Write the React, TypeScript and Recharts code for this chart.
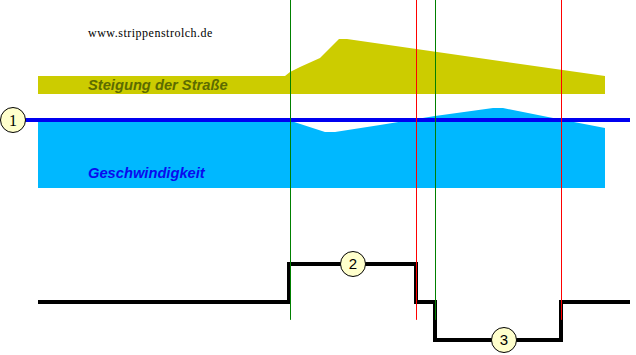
import { ComposedChart, XAxis, YAxis, Area, Line, ReferenceDot } from 'recharts'

const W = 636
const H = 355

// Strecke in m (0 = Beginn der Grafik)
const X_DOMAIN: [number, number] = [-38, 598]

// Steigung der Straße in %
const gradeDist = [0, 247, 252, 262, 282, 301, 309, 567]
const gradeValues = [0, 0, 0.9, 2, 4, 8.2, 8.2, 0]

// Geschwindigkeit in km/h
const speedDist = [0, 250, 287, 297, 342, 397, 455, 465, 510, 567]
const speedValues = [50, 50, 41.2, 41.2, 46.3, 52.9, 58.8, 58.8, 52.2, 44.1]
const setSpeedDist = [-25, 592]
const setSpeed = 50

// Regler: 1 = Gas, 0 = neutral, -1 = Bremse
const stateDist = [0, 251, 378, 397, 523, 592]
const stateValues = [0, 1, 0, -1, 0, 0]

// senkrechte Markierungen
const markerDist = [252.5, 378.5, 397.5, 523.5]
const MARKER_COLORS = ['#008000', '#ff0000', '#008000', '#ff0000']

// Nummern
const badgeLabels = ['1', '2', '3']
const badgeDist = [-25, 315, 466]

// Achsenbereich so, dass v0 bei Pixelzeile y0 liegt
function yDomain(v0: number, y0: number, pxPerUnit: number): [number, number] {
  return [v0 - (H - y0) / pxPerUnit, v0 + y0 / pxPerUnit]
}

const gradeDomain = yDomain(0, 76, 4.5)
const speedDomain = yDomain(0, 188, 1.36)
const stateDomain = yDomain(0, 302, 38)
const GRADE_BASE = -4
const MARKER_BOTTOM = -0.47

const gradeData = gradeDist.map((d, i) => ({ d, g: gradeValues[i] }))
const speedData = speedDist.map((d, i) => ({ d, v: speedValues[i] }))
const setSpeedData = setSpeedDist.map(d => ({ d, v: setSpeed }))
const stateData = stateDist.map((d, i) => ({ d, s: stateValues[i] }))

const badgeStyle = { fill: '#ffffcc', stroke: '#000', strokeWidth: 1, r: 12.5 }

export default function App() {
  return (
    <div style={{ position: 'relative', width: W, height: H, background: '#fff' }}>
      <style>{'body{margin:0}'}</style>
      <ComposedChart width={W} height={H} margin={{ top: 0, right: 0, bottom: 0, left: 0 }}>
        <XAxis dataKey="d" type="number" domain={X_DOMAIN} allowDataOverflow hide />
        <YAxis yAxisId="grade" type="number" domain={gradeDomain} allowDataOverflow hide />
        <YAxis yAxisId="speed" type="number" domain={speedDomain} allowDataOverflow hide />
        <YAxis yAxisId="state" type="number" domain={stateDomain} allowDataOverflow hide />

        <Area
          data={gradeData}
          dataKey="g"
          yAxisId="grade"
          type="linear"
          baseValue={GRADE_BASE}
          fill="#cccc00"
          fillOpacity={1}
          stroke="none"
          dot={false}
          activeDot={false}
          isAnimationActive={false}
        />
        <Area
          data={speedData}
          dataKey="v"
          yAxisId="speed"
          type="linear"
          baseValue={0}
          fill="#00b8ff"
          fillOpacity={1}
          stroke="none"
          dot={false}
          activeDot={false}
          isAnimationActive={false}
        />
        <Line
          data={setSpeedData}
          dataKey="v"
          yAxisId="speed"
          stroke="#0000f0"
          strokeWidth={4}
          dot={false}
          activeDot={false}
          isAnimationActive={false}
        />
        <Line
          data={stateData}
          dataKey="s"
          yAxisId="state"
          type="stepAfter"
          stroke="#000"
          strokeWidth={4}
          dot={false}
          activeDot={false}
          isAnimationActive={false}
        />
        {markerDist.map((d, i) => (
          <Line
            key={`m-${i}`}
            data={[{ d, s: MARKER_BOTTOM }, { d, s: stateDomain[1] }]}
            dataKey="s"
            yAxisId="state"
            stroke={MARKER_COLORS[i]}
            strokeWidth={1}
            dot={false}
            activeDot={false}
            isAnimationActive={false}
          />
        ))}

        <ReferenceDot
          x={badgeDist[0]}
          y={setSpeed}
          yAxisId="speed"
          {...badgeStyle}
          label={{ value: badgeLabels[0], position: 'center', fontFamily: 'Liberation Serif', fontSize: 16, fill: '#000' }}
        />
        <ReferenceDot
          x={badgeDist[1]}
          y={1}
          yAxisId="state"
          {...badgeStyle}
          label={{ value: badgeLabels[1], position: 'center', fontFamily: 'Liberation Sans', fontSize: 15, fill: '#000' }}
        />
        <ReferenceDot
          x={badgeDist[2]}
          y={-1}
          yAxisId="state"
          {...badgeStyle}
          label={{ value: badgeLabels[2], position: 'center', fontFamily: 'Liberation Sans', fontSize: 15, fill: '#000' }}
        />
      </ComposedChart>

      <svg width={W} height={H} style={{ position: 'absolute', left: 0, top: 0, pointerEvents: 'none' }}>
        <text x={88} y={37} fontFamily="Liberation Serif" fontSize={12} letterSpacing={0.5} fill="#000">
          www.strippenstrolch.de
        </text>
        <text x={88} y={90} fontFamily="Liberation Sans" fontSize={14.7} fontWeight="bold" fontStyle="italic" fill="#5c6b00">
          Steigung der Straße
        </text>
        <text x={88} y={178} fontFamily="Liberation Sans" fontSize={14.7} fontWeight="bold" fontStyle="italic" fill="#0a0aee">
          Geschwindigkeit
        </text>
      </svg>
    </div>
  )
}
